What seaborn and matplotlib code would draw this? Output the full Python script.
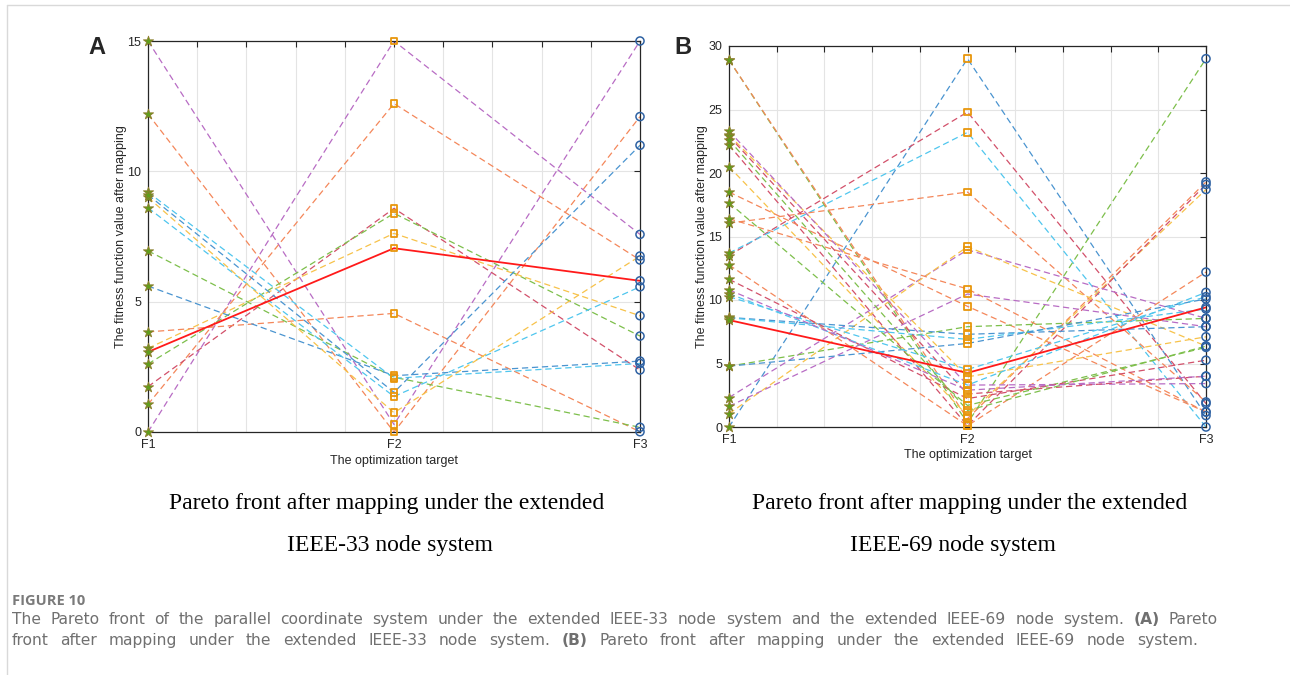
import numpy as np
import pandas as pd
import matplotlib
matplotlib.use("Agg")
import matplotlib.pyplot as plt
from matplotlib.lines import Line2D
import seaborn as sns

sns.set_theme(style="white")
plt.rcParams["font.family"] = ["Liberation Sans", "DejaVu Sans"]

W, H = 1290, 675

TARGETS = ["F1", "F2", "F3"]

BLUE, ORANGE, YELLOW = "#4a94d0", "#f4875a", "#f7c24a"
PURPLE, GREEN, CYAN, CRIMSON = "#b86cc4", "#7dbf4b", "#4fc6ee", "#d2506a"

# ---- extended IEEE-33 node system: mapped objective values per solution ----
ieee33_f1 = [15.0, 0.0, 12.2, 1.06, 1.74, 2.61, 3.21, 3.07, 3.84, 6.95, 5.6, 9.2, 8.6, 9.0, 9.1]
ieee33_f2 = [0.29, 15.0, 0.0, 12.6, 8.58, 8.39, 7.62, 7.05, 4.55, 2.1, 2.16, 2.06, 1.36, 0.74, 1.52]
ieee33_f3 = [15.0, 7.58, 12.1, 6.6, 2.38, 3.68, 4.46, 5.8, 0.01, 0.18, 2.72, 2.63, 5.57, 6.75, 11.0]
ieee33_colors = [PURPLE, PURPLE, ORANGE, ORANGE, CRIMSON, GREEN, YELLOW, "red",
                 ORANGE, GREEN, BLUE, CYAN, CYAN, YELLOW, BLUE]
ieee33_best = 7

# ---- extended IEEE-69 node system ----
ieee69_f1 = [0.0, 13.5, 13.7, 16.05, 28.9, 28.9, 20.5, 22.2, 2.32, 1.05, 16.4, 1.63, 18.5, 4.79,
             8.63, 8.6, 4.79, 8.42, 10.26, 12.76, 23.0, 23.3, 22.9, 17.65, 11.63, 22.6, 10.5, 10.8]
ieee69_f2 = [29.0, 24.8, 23.2, 18.5, 0.3, 0.65, 0.9, 0.1, 13.95, 14.2, 10.87, 10.47, 9.5, 7.9,
             7.3, 6.9, 6.58, 4.26, 4.53, 0.1, 3.95, 3.3, 2.6, 1.7, 2.24, 1.3, 3.3, 2.9]
ieee69_f3 = [0.9, 1.84, 0.0, 1.97, 29.0, 19.3, 18.7, 19.1, 8.55, 6.37, 1.18, 7.9, 1.18, 8.55,
             7.9, 9.29, 10.08, 9.42, 10.26, 12.2, 7.1, 3.42, 4.0, 6.27, 5.26, 6.37, 10.6, 4.0]
ieee69_colors = [BLUE, CRIMSON, CYAN, ORANGE, GREEN, ORANGE, YELLOW, CRIMSON, PURPLE, YELLOW,
                 ORANGE, PURPLE, ORANGE, GREEN, BLUE, CYAN, BLUE, "red", CYAN, ORANGE,
                 YELLOW, PURPLE, CRIMSON, GREEN, CRIMSON, GREEN, CYAN, PURPLE]
ieee69_best = 17


def long_frame(f1, f2, f3):
    rows = []
    for i, vals in enumerate(zip(f1, f2, f3)):
        for pos, v in enumerate(vals, start=1):
            rows.append({"solution": i, "pos": pos, "value": v})
    return pd.DataFrame(rows)


def draw_panel(ax, f1, f2, f3, colors, best, ymax):
    df = long_frame(f1, f2, f3)
    front = df[df.solution != best]
    pal = {i: c for i, c in enumerate(colors) if i != best}
    sns.lineplot(data=front, x="pos", y="value", hue="solution", palette=pal,
                 units="solution", estimator=None, sort=False, legend=False,
                 lw=0.9, ax=ax)
    for ln in ax.lines:
        ln.set_dashes((5, 3))
    sns.lineplot(data=df[df.solution == best], x="pos", y="value", color="#ff1a1a",
                 estimator=None, sort=False, legend=False, lw=1.3, ax=ax)

    sns.scatterplot(data=df[df.pos == 1], x="pos", y="value", marker="*", s=60,
                    color="#5f9e1c", edgecolor="#8f7d2e", linewidth=0.6,
                    zorder=5, clip_on=False, legend=False, ax=ax)
    sns.scatterplot(data=df[df.pos == 2], x="pos", y="value", marker="s", s=22,
                    zorder=5, clip_on=False, legend=False, ax=ax)
    sq = ax.collections[-1]
    sq.set_facecolor("none"); sq.set_edgecolor("#e8960c"); sq.set_linewidth(1.3)
    sns.scatterplot(data=df[df.pos == 3], x="pos", y="value", marker="o", s=34,
                    zorder=5, clip_on=False, legend=False, ax=ax)
    cc = ax.collections[-1]
    cc.set_facecolor("none"); cc.set_edgecolor("#2f62a3"); cc.set_linewidth(1.1)

    ax.set_xlim(1, 3)
    ax.set_ylim(0, ymax)
    xt = np.round(np.arange(1, 3.001, 0.2), 2)
    ax.set_xticks(xt)
    ax.set_xticklabels([TARGETS[int(v) - 1] if abs(v - round(v)) < 1e-6 else "" for v in xt])
    ax.set_yticks(np.arange(0, ymax + 0.1, 5))
    ax.set_yticklabels([f"{int(v)}" for v in np.arange(0, ymax + 0.1, 5)])
    ax.grid(True, which="major", color="#e4e4e4", lw=0.8)
    ax.set_axisbelow(True)
    ax.tick_params(direction="in", top=True, right=True, length=4, width=0.8,
                   labelsize=9, colors="#262626", pad=5)
    for sp in ax.spines.values():
        sp.set_visible(True)
        sp.set_color("#262626")
        sp.set_linewidth(0.9)
    ax.set_xlabel("The optimization target", fontsize=9, color="#262626")
    ax.set_ylabel("The fitness function value after mapping", fontsize=9, color="#262626")


fig = plt.figure(figsize=(W / 100, H / 100), dpi=100)
fig.patch.set_facecolor("white")

axA = fig.add_axes([148 / W, 1 - 432 / H, (640 - 148) / W, (432 - 41) / H])
draw_panel(axA, ieee33_f1, ieee33_f2, ieee33_f3, ieee33_colors, ieee33_best, 15)
axA.yaxis.set_label_coords(-0.043, 0.5)
axA.xaxis.set_label_coords(0.5, -0.059)

axB = fig.add_axes([729 / W, 1 - 427 / H, (1206 - 729) / W, (427 - 46) / H])
draw_panel(axB, ieee69_f1, ieee69_f2, ieee69_f3, ieee69_colors, ieee69_best, 30)
axB.yaxis.set_label_coords(-0.044, 0.5)
axB.xaxis.set_label_coords(0.5, -0.058)

fig.text(97 / W, 1 - 48 / H, "A", fontsize=17, fontweight="bold", ha="center", va="center")
fig.text(683 / W, 1 - 48 / H, "B", fontsize=17, fontweight="bold", ha="center", va="center")

serif = dict(family=["Liberation Serif", "DejaVu Serif"], fontsize=17, ha="center",
             va="center", color="black")
fig.text(387 / W, 1 - 503 / H, "Pareto front after mapping under the extended", **serif)
fig.text(390 / W, 1 - 545 / H, "IEEE-33 node system", **serif)
fig.text(970 / W, 1 - 503 / H, "Pareto front after mapping under the extended", **serif)
fig.text(953 / W, 1 - 545 / H, "IEEE-69 node system", **serif)

# page frame
fig.add_artist(Line2D([7 / W, 7 / W], [0, 1 - 5 / H], transform=fig.transFigure,
                      color="#d9d9d9", lw=1))
fig.add_artist(Line2D([7 / W, 1], [1 - 5 / H, 1 - 5 / H], transform=fig.transFigure,
                      color="#d9d9d9", lw=1))

cap_font = ["DejaVu Sans"]
fig.text(12 / W, 1 - 605 / H, "FIGURE 10", fontsize=10.5, fontweight="bold",
         color="#7a7a7a", family=["Open Sans", "DejaVu Sans"], ha="left", va="baseline")


def caption_line(baseline, words, x0, x1, size=11.2, color="#707070"):
    renderer = fig.canvas.get_renderer()
    texts, widths = [], []
    for word, weight in words:
        t = fig.text(0, 1 - baseline / H, word, fontsize=size, fontweight=weight, color=color,
                     family=cap_font, ha="left", va="baseline")
        widths.append(t.get_window_extent(renderer).width)
        texts.append(t)
    gap = (x1 - x0 - sum(widths)) / (len(texts) - 1)
    x = x0
    for t, w in zip(texts, widths):
        t.set_x(x / W)
        x += w + gap


def words_of(s, bold_tokens=("(A)", "(B)")):
    return [(w, "bold" if w in bold_tokens else "normal") for w in s.split()]


caption_line(624, words_of("The Pareto front of the parallel coordinate system under the extended "
                           "IEEE-33 node system and the extended IEEE-69 node system. (A) Pareto"),
             12, 1218)
caption_line(645, words_of("front after mapping under the extended IEEE-33 node system. (B) Pareto "
                           "front after mapping under the extended IEEE-69 node system."),
             12, 1198)

fig.savefig("out.png", dpi=100, facecolor="white")
